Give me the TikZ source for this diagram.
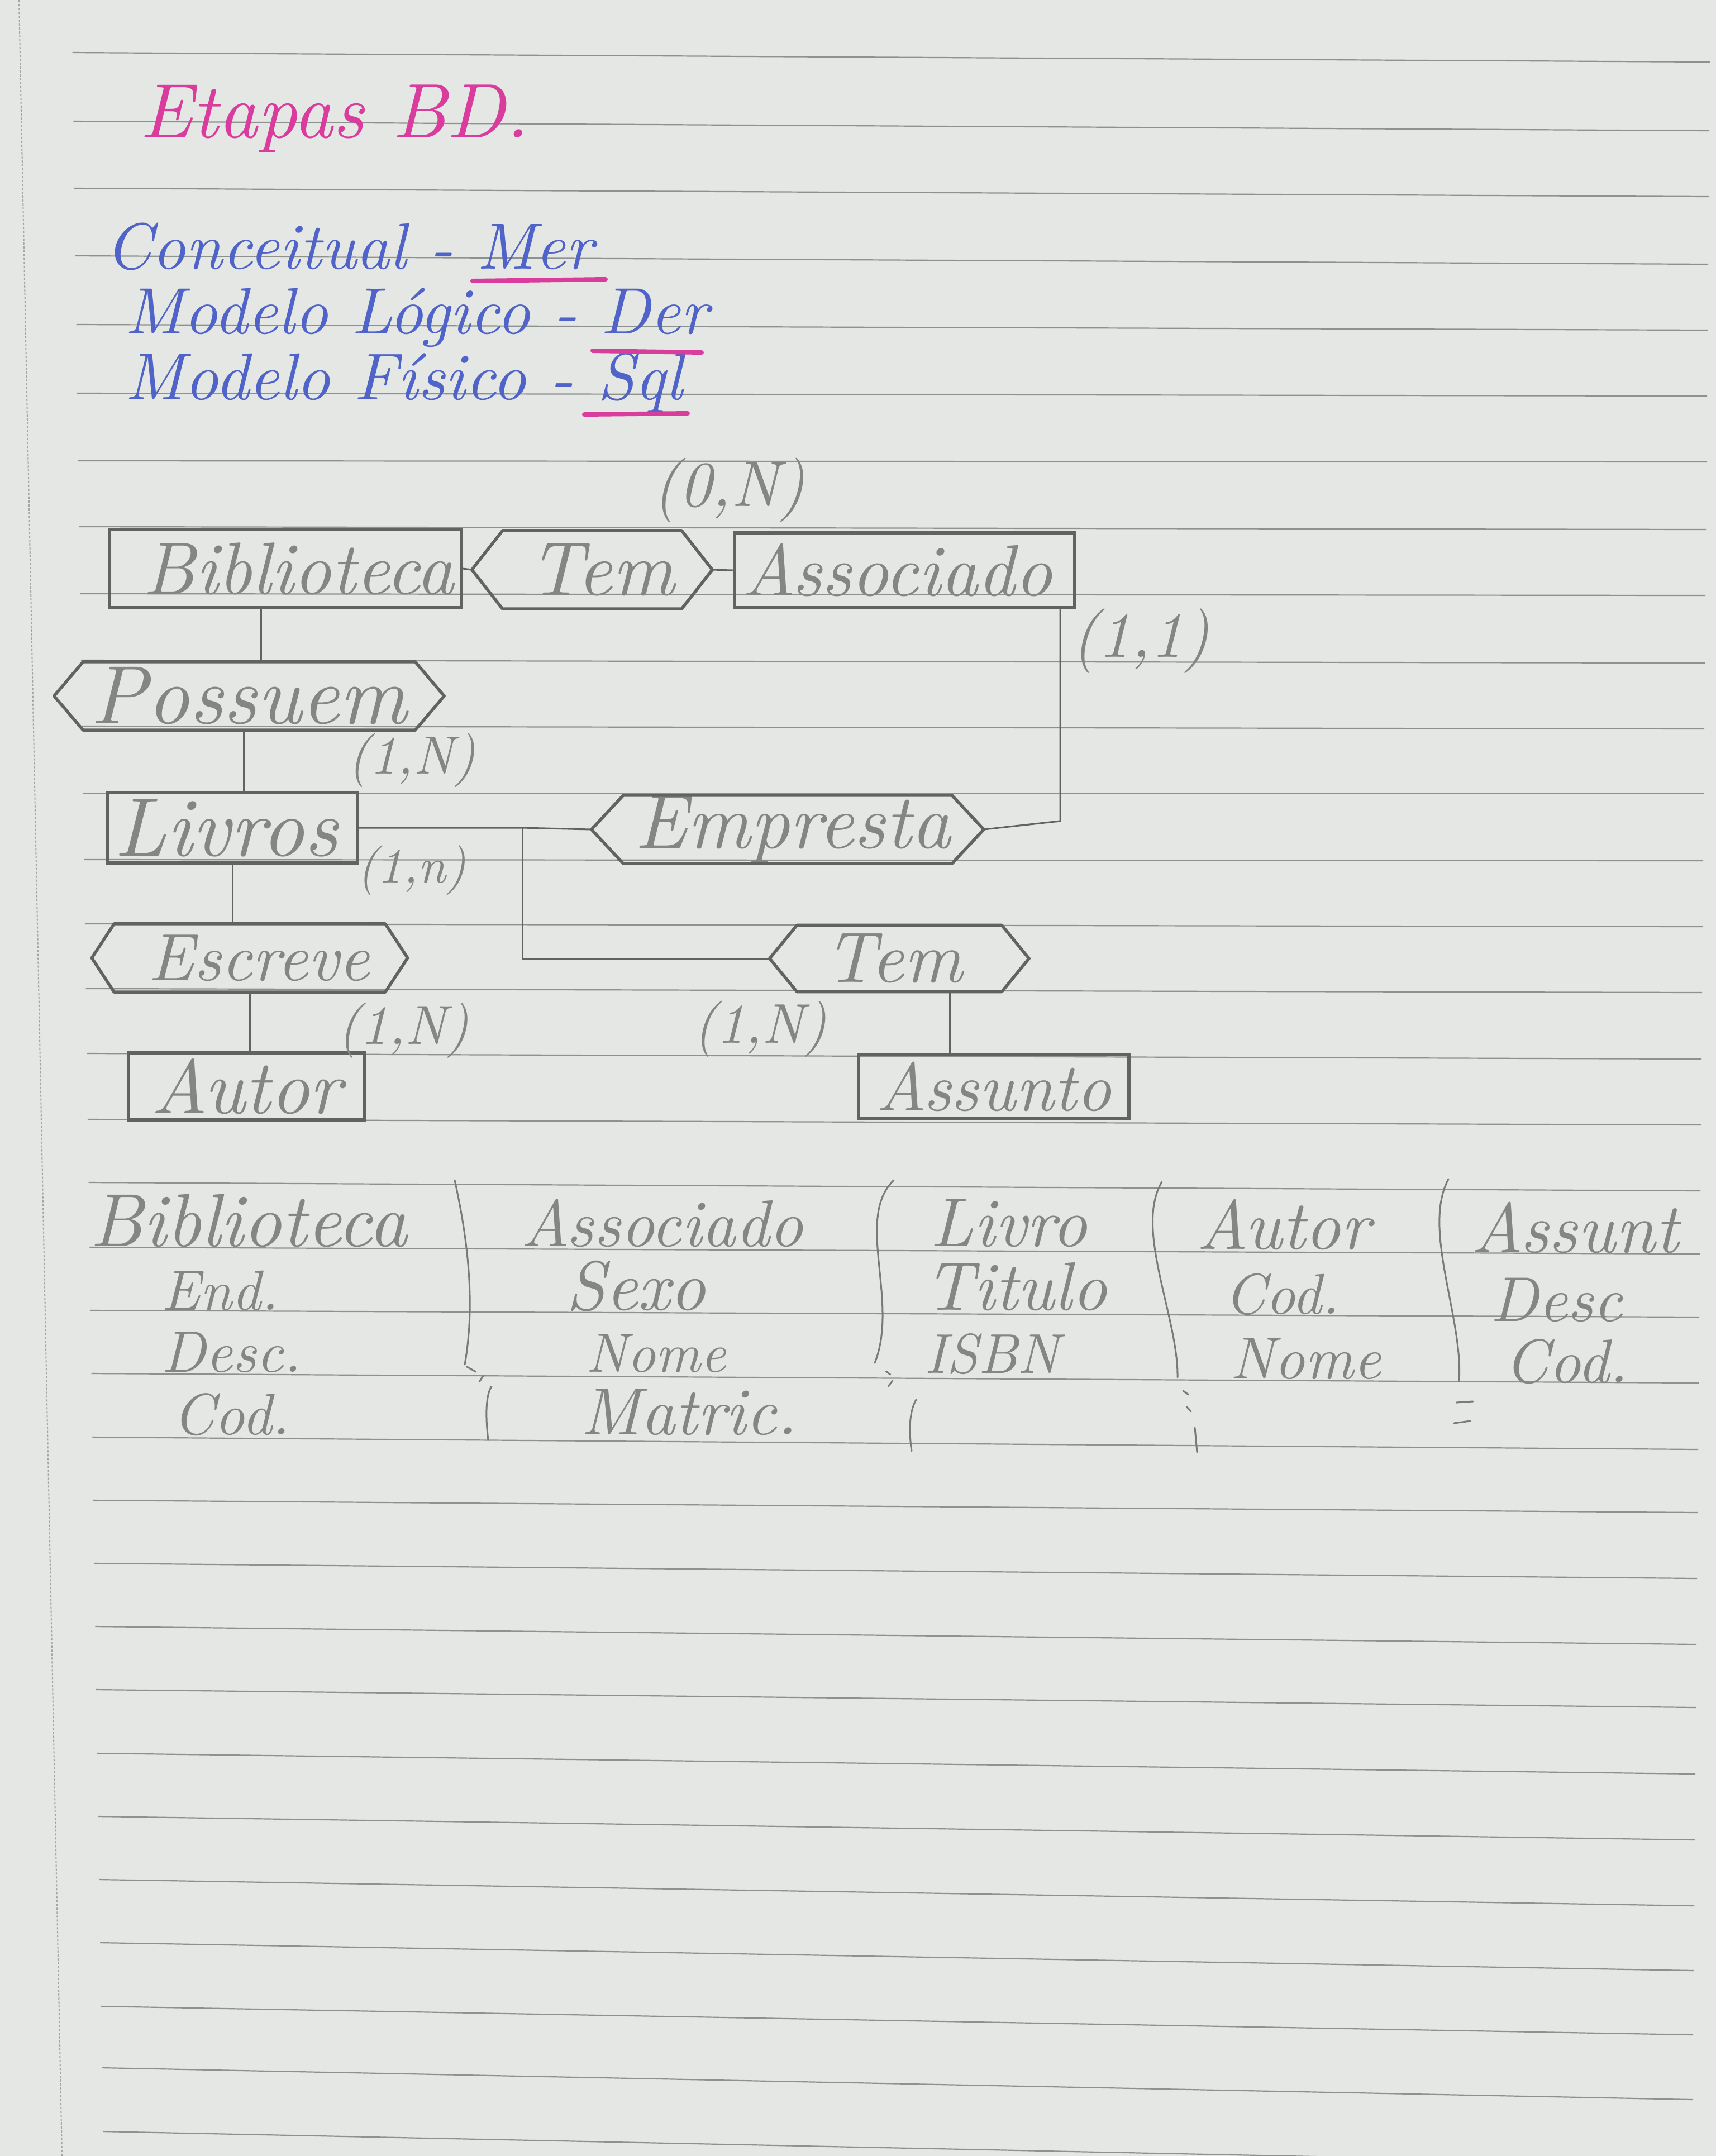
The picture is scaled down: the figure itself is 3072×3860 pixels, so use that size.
\documentclass[tikz,border=0pt]{standalone}
\usepackage{graphicx}
\usetikzlibrary{calc}
\definecolor{paper}{HTML}{E4E7E3}
\definecolor{rulec}{HTML}{8E928E}
\definecolor{marginc}{HTML}{A3A7A3}
\definecolor{pencil}{HTML}{626262}
\definecolor{pencilt}{HTML}{858585}
\definecolor{blueink}{HTML}{4F63C8}
\definecolor{pinkink}{HTML}{D93C9C}
\newlength\px \setlength\px{0.1mm}
\newcommand\hw[2]{\resizebox{#1\px}{!}{\itshape #2}}
\newcommand\hws[3]{\hspace*{#2\px}\resizebox{#1\px}{!}{\itshape #3}\hspace*{-#2\px}}
\newcommand\hexo[2]{\draw[hexline] (#1.west) -- ([shift={(#2,0)}]#1.north west) -- ([shift={(-#2,0)}]#1.north east) -- (#1.east) -- ([shift={(-#2,0)}]#1.south east) -- ([shift={(#2,0)}]#1.south west) -- cycle;}
\begin{document}
\begin{tikzpicture}[x=0.1mm,y=-0.1mm,
  rule/.style={draw=rulec,line width=0.22mm},
  ent/.style={draw=pencil,line width=0.55mm,inner sep=0pt,text=pencilt},
  rel/.style={inner sep=0pt,text=pencilt},
  hexline/.style={draw=pencil,line width=0.55mm,line join=round},
  conn/.style={draw=pencil,line width=0.3mm},
  card/.style={inner sep=0pt,text=pencilt},
  att/.style={inner sep=0pt,anchor=base west,text=pencilt},
  brk/.style={draw=pencil!85,line width=0.3mm,line cap=round},
  ink/.style={inner sep=0pt,anchor=base west,text=blueink},
  pinkul/.style={draw=pinkink,line width=0.8mm,line cap=round}]
\useasboundingbox (0,0) rectangle (3072,3860);
\clip (0,0) rectangle (3072,3860);
\fill[paper] (0,0) rectangle (3072,3860);
% margin line
\draw[marginc,line width=0.2mm,dash pattern=on 0.4mm off 0.3mm] (34,0) -- (111,3860);
% ruled lines
\foreach \yl/\yr [count=\i] in {94/111,217/234,337/352,458/473,581/591,704/709,825/827,943/948,1063/1066,1182/1187,1300/1305,1420/1420,1539/1541,1654/1659,1770/1777,1886/1896,2004/2014,2117/2132,2233/2245,2346/2358,2459/2476,2573/2595,2686/2708,2799/2826,2912/2944,3025/3057,3139/3176,3252/3294,3365/3412,3478/3528,3592/3643,3702/3759,3816/3875}
  {\draw[rule] ({128+1.7*\i},\yl) -- ({3062-\i},\yr);}
% title and notes
\node[inner sep=0pt,anchor=base west,text=pinkink] (title) at (250,246) {\hw{696}{Etapas BD.}};
\node[ink] (m1) at (188,481) {\hw{873}{Conceitual - Mer}};
\node[ink] (m2) at (223,597) {\hw{1044}{Modelo Lógico - Der}};
\node[ink] (m3) at (223,715) {\hw{998}{Modelo Físico - Sql}};
\draw[pinkul] (846,503) -- (1084,500);
\draw[pinkul] (1061,628) -- (1256,631);
\draw[pinkul] (1046,742) -- (1231,740);
% entities
\node[ent,minimum width=62.9mm,minimum height=13.9mm] (bib) at (511,1018) {\hws{556}{24}{Biblioteca}};
\node[ent,minimum width=60.9mm,minimum height=13.4mm] (assoc) at (1619,1021) {\hws{555}{-13}{Associado}};
\node[ent,minimum width=44.8mm,minimum height=12.6mm] (livros) at (416,1482) {\hws{401}{-11}{Livros}};
\node[ent,minimum width=42.2mm,minimum height=12.0mm] (autor) at (441,1945) {\hw{341}{Autor}};
\node[ent,minimum width=48.4mm,minimum height=11.5mm] (assunto) at (1779,1945) {\hw{421}{Assunto}};
% relationships
\node[rel,minimum width=42.9mm,minimum height=13.9mm] (tem1) at (1060,1020) {\hws{261}{17}{Tem}};
\node[rel,minimum width=69.7mm,minimum height=12.1mm] (possuem) at (446,1246) {\hw{566}{Possuem}};
\node[rel,minimum width=70.1mm,minimum height=11.7mm] (empresta) at (1410,1485) {\hws{565}{9}{Empresta}};
\node[rel,minimum width=56.4mm,minimum height=12.1mm] (escreve) at (447,1715) {\hws{396}{17}{Escreve}};
\node[rel,minimum width=46.3mm,minimum height=11.8mm] (tem2) at (1610,1716) {\hws{246}{-10}{Tem}};
\hexo{tem1}{55}
\hexo{possuem}{52}
\hexo{empresta}{57}
\hexo{escreve}{40}
\hexo{tem2}{49}
% connectors
\draw[conn] (bib.east) -- (tem1.west);
\draw[conn] (tem1.east) -- (assoc.west);
\coordinate (p1) at ($(bib.south)+(-44,0)$);
\draw[conn] (p1) -- (p1 |- possuem.north);
\coordinate (p2) at ($(possuem.south)+(-10,0)$);
\draw[conn] (p2) -- (p2 |- livros.north);
\draw[conn] (livros.south) -- (livros.south |- escreve.north);
\draw[conn] (escreve.south) -- (escreve.south |- autor.north);
\coordinate (p3) at ($(tem2.south)+(90,0)$);
\draw[conn] (p3) -- (p3 |- assunto.north);
\coordinate (jn) at (935,1482);
\draw[conn] (livros.east) -- (jn) -- (empresta.west);
\draw[conn] (jn) |- (tem2.west);
\coordinate (ac) at (1898,1470);
\draw[conn] (ac |- assoc.south) -- (ac) -- (empresta.east);
% cardinalities
\node[card] (c1) at (1305,878) {\hw{274}{(0,N)}};
\node[card] (c2) at (2042,1148) {\hw{248}{(1,1)}};
\node[card] (c3) at (737,1361) {\hw{230}{(1,N)}};
\node[card] (c4) at (737,1558) {\hw{195}{(1,n)}};
\node[card] (c5) at (722,1845) {\hw{235}{(1,N)}};
\node[card] (c6) at (1361,1842) {\hw{239}{(1,N)}};
% attribute lists
\node[att] (a1) at (161,2231) {\hw{567}{Biblioteca}};
\node[att] (a2) at (289,2345) {\hw{209}{End.}};
\node[att] (a3) at (289,2456) {\hw{250}{Desc.}};
\node[att] (a4) at (309,2568) {\hw{209}{Cod.}};
\node[att] (b1) at (932,2231) {\hw{505}{Associado}};
\node[att] (b2) at (1013,2345) {\hw{250}{Sexo}};
\node[att] (b3) at (1049,2456) {\hw{250}{Nome}};
\node[att] (b4) at (1039,2568) {\hw{388}{Matric.}};
\node[att] (d1) at (1665,2231) {\hw{281}{Livro}};
\node[att] (d2) at (1655,2345) {\hw{326}{Titulo}};
\node[att] (d3) at (1655,2458) {\hw{241}{ISBN}};
\node[att] (e1) at (2142,2236) {\hw{310}{Autor}};
\node[att] (e2) at (2192,2352) {\hw{205}{Cod.}};
\node[att] (e3) at (2202,2468) {\hw{270}{Nome}};
\node[att] (f1) at (2633,2242) {\hw{371}{Assunt}};
\node[att] (f2) at (2668,2365) {\hw{236}{Desc}};
\node[att] (f3) at (2693,2475) {\hw{221}{Cod.}};
% brackets
\draw[brk] (814,2113) .. controls (840,2230) and (850,2340) .. (832,2443);
\draw[brk] (836,2447) -- (852,2456);
\draw[brk] (866,2462) -- (858,2474);
\draw[brk] (880,2482) .. controls (868,2500) and (870,2545) .. (874,2578);
\draw[brk] (1600,2113) .. controls (1530,2180) and (1610,2330) .. (1566,2440);
\draw[brk] (1586,2455) -- (1594,2461);
\draw[brk] (1598,2472) -- (1590,2482);
\draw[brk] (1640,2506) .. controls (1626,2530) and (1628,2570) .. (1632,2598);
\draw[brk] (2080,2116) .. controls (2030,2200) and (2110,2360) .. (2108,2466);
\draw[brk] (2118,2490) -- (2128,2497);
\draw[brk] (2124,2518) -- (2132,2527);
\draw[brk] (2139,2556) -- (2143,2600);
\draw[brk] (2593,2111) .. controls (2545,2200) and (2620,2360) .. (2612,2473);
\draw[brk] (2607,2511) -- (2637,2509);
\draw[brk] (2603,2548) -- (2632,2544);
\end{tikzpicture}
\end{document}
